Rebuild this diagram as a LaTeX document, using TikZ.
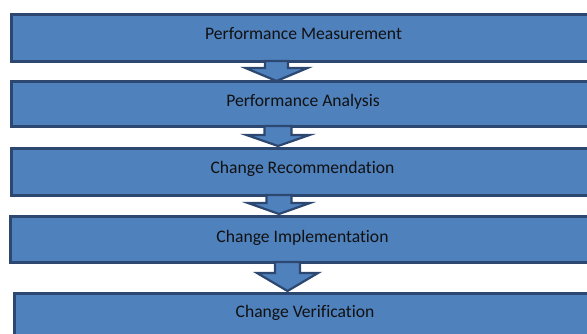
\documentclass[tikz,border=0pt]{standalone}
\usepackage{fontspec}
\setmainfont[Ligatures={NoCommon}]{Carlito}
\definecolor{boxfill}{HTML}{4F81BD}
\definecolor{boxline}{HTML}{2C4770}
\definecolor{txt}{HTML}{111111}
\begin{document}
\begin{tikzpicture}[x=1pt,y=-1pt,
  stage/.style={rectangle,draw=boxline,fill=boxfill,line width=2.6pt,
    anchor=north west,inner sep=0pt,minimum width=595pt,
    text=txt,font=\fontsize{17.6}{20}\selectfont},
  blockarrow/.style={draw=boxline,fill=boxfill,line width=2.2pt,line join=miter}]
\useasboundingbox (0,0) rectangle (587,334);
\clip (0,0) rectangle (587,334);
% block arrow: centre x, top y, head y, tip y, shaft half-width, head half-width
\newcommand\blockarr[6]{%
  \draw[blockarrow] (#1-#5,#2) -- (#1+#5,#2) -- (#1+#5,#3) -- (#1+#6,#3)
    -- (#1,#4) -- (#1-#6,#3) -- (#1-#5,#3) -- cycle;}
% stages
\node[stage,minimum height=47pt] (s1) at (10,13) {};
\node[stage,minimum height=45pt] (s2) at (10,80) {};
\node[stage,minimum height=47pt] (s3) at (10,147) {};
\node[stage,minimum height=46pt] (s4) at (9,215) {};
\node[stage,minimum height=50pt] (s5) at (13,292) {};
% arrows between stages
\blockarr{276.5}{61}{68}{81}{11.5}{31}
\blockarr{278}{126}{135}{146}{13.5}{31.5}
\blockarr{279}{195}{203}{214}{12.5}{31}
\blockarr{287.5}{262}{273}{291}{12.5}{30.5}
% labels
\begin{scope}[every node/.style={text=txt,font=\fontsize{17.6}{20}\selectfont}]
\node (t1) at (303.5,33.5) {Performance Measurement};
\node (t2) at (303,101.5) {Performance Analysis};
\node (t3) at (302.5,169) {Change Recommendation};
\node (t4) at (302.5,237.5) {Change Implementation};
\node (t5) at (305,313) {Change Verification};
\end{scope}
\end{tikzpicture}
\end{document}
